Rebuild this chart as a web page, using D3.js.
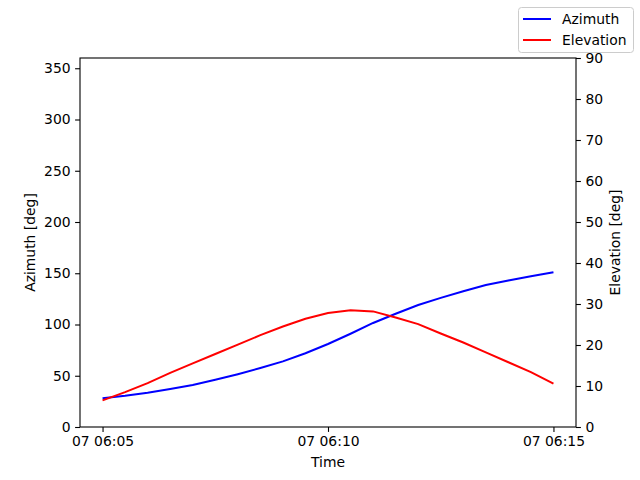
<!DOCTYPE html>
<html>
<head>
<meta charset="utf-8">
<script src="https://cdn.jsdelivr.net/npm/d3@7"></script>
<style>
  body { margin: 0; background: #fff; }
  text { font-family: "DejaVu Sans", sans-serif; }
</style>
</head>
<body>
<script>
// données : un point toutes les 30 s entre 06:05 et 06:15
const minutes = [0, 0.5, 1, 1.5, 2, 2.5, 3, 3.5, 4, 4.5, 5, 5.5, 6, 6.5, 7, 7.5, 8, 8.5, 9, 9.5, 10];
const azimuth = [28, 30.5, 33.5, 37, 41, 46, 51.5, 57.5, 64, 72, 81, 91, 101.5, 110.5, 119, 126, 132.5, 138.5, 143, 147, 151];
const elevation = [6.5, 8.5, 10.7, 13.2, 15.5, 17.8, 20.1, 22.4, 24.5, 26.4, 27.8, 28.5, 28.2, 26.7, 25.1, 22.8, 20.6, 18.2, 15.8, 13.4, 10.6];
const azTicks = [0, 50, 100, 150, 200, 250, 300, 350];
const elTicks = [0, 10, 20, 30, 40, 50, 60, 70, 80, 90];
const series = ["Azimuth", "Elevation"];
const couleurs = ["blue", "red"];

const debut = Date.UTC(2024, 0, 7, 6, 5);
const dates = minutes.map(m => new Date(debut + m * 60000));

const W = 640, H = 480;
const m = {left: 80, right: 576, top: 58, bottom: 427};

const svg = d3.select('body').append('svg')
  .attr('width', W).attr('height', H);

// échelles
const x = d3.scaleUtc()
  .domain([new Date(debut - 30000), new Date(debut + 10.5 * 60000)])
  .range([m.left, m.right]);
const yAz = d3.scaleLinear().domain([0, 360]).range([m.bottom, m.top]);
const yEl = d3.scaleLinear().domain([0, 90]).range([m.bottom, m.top]);

const fs = '13.9px';

// axes
const axeX = d3.axisBottom(x)
  .tickValues([0, 5, 10].map(k => new Date(debut + k * 60000)))
  .tickFormat(d3.utcFormat('%d %H:%M'))
  .tickSize(4.9).tickPadding(4.5);
const axeG = d3.axisLeft(yAz).tickValues(azTicks).tickSize(4.9).tickPadding(4.5);
const axeD = d3.axisRight(yEl).tickValues(elTicks).tickSize(4.9).tickPadding(4.5);

function style(g) {
  g.selectAll('text').style('font-size', fs).attr('fill', '#000');
  g.selectAll('line').attr('stroke', '#000').attr('stroke-width', 1.1);
  g.select('.domain').remove();
}
svg.append('g').attr('transform', `translate(0,${m.bottom})`).call(axeX).call(style);
svg.append('g').attr('transform', `translate(${m.left},0)`).call(axeG).call(style);
svg.append('g').attr('transform', `translate(${m.right},0)`).call(axeD).call(style);

// courbes
const ligneAz = d3.line().x((d, i) => x(dates[i])).y(d => yAz(d));
const ligneEl = d3.line().x((d, i) => x(dates[i])).y(d => yEl(d));
svg.append('path').attr('d', ligneAz(azimuth))
  .attr('fill', 'none').attr('stroke', couleurs[0]).attr('stroke-width', 2);
svg.append('path').attr('d', ligneEl(elevation))
  .attr('fill', 'none').attr('stroke', couleurs[1]).attr('stroke-width', 2);

// cadre
svg.append('rect')
  .attr('x', m.left).attr('y', m.top)
  .attr('width', m.right - m.left).attr('height', m.bottom - m.top)
  .attr('fill', 'none').attr('stroke', '#000').attr('stroke-width', 1.1);

// titres d'axes
svg.append('text').attr('x', (m.left + m.right) / 2).attr('y', 467)
  .attr('text-anchor', 'middle').style('font-size', fs).text('Time');
svg.append('text').attr('transform', `translate(35,${(m.top + m.bottom) / 2}) rotate(-90)`)
  .attr('text-anchor', 'middle').style('font-size', fs).text('Azimuth [deg]');
svg.append('text').attr('transform', `translate(620,${(m.top + m.bottom) / 2}) rotate(-90)`)
  .attr('text-anchor', 'middle').style('font-size', fs).text('Elevation [deg]');

// légende
const leg = svg.append('g');
leg.append('rect').attr('x', 518.5).attr('y', 7.5).attr('width', 115).attr('height', 45)
  .attr('rx', 3).attr('fill', '#fff').attr('stroke', '#ccc');
series.forEach((s, i) => {
  const yy = 19 + i * 21;
  leg.append('line').attr('x1', 523).attr('x2', 551).attr('y1', yy).attr('y2', yy)
    .attr('stroke', couleurs[i]).attr('stroke-width', 2);
  leg.append('text').attr('x', 562).attr('y', yy + 5).style('font-size', fs).text(s);
});
</script>
</body>
</html>
